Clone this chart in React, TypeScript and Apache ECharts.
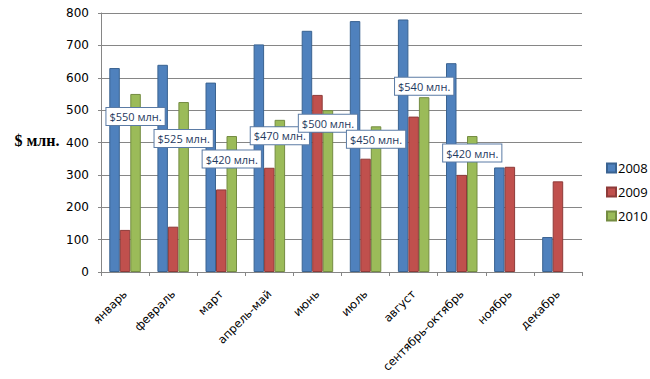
import React, { useEffect, useRef } from "react";
import * as echarts from "echarts";

const categories = [
  "январь",
  "февраль",
  "март",
  "апрель-май",
  "июнь",
  "июль",
  "август",
  "сентябрь-октябрь",
  "ноябрь",
  "декабрь",
];
const values2008 = [630, 640, 585, 703, 745, 775, 780, 645, 323, 108];
const values2009 = [130, 140, 255, 322, 547, 350, 480, 300, 325, 280];
const values2010: (number | null)[] = [550, 525, 420, 470, 500, 450, 540, 420, null, null];
const seriesNames = ["2008", "2009", "2010"];
const yTicks = { min: 0, max: 800, interval: 100 };
// vertical offsets (px) of the callout boxes relative to the 2010 bar tops
const labelOffsets = [31, 45, 31.5, 24.5, 21.5, 21.5, -2.5, 25.5, 0, 0];

export default function App() {
  const ref = useRef<HTMLDivElement>(null);
  useEffect(() => {
    if (!ref.current) return;
    const chart = echarts.init(ref.current, undefined, { renderer: "svg" });
    const axisFont = "DejaVu Sans";
    const fills = ["#4F81BD", "#C0504D", "#9BBB59"];
    const borders = ["#3A6391", "#8E3B39", "#748C42"];
    const datasets = [values2008, values2009, values2010];
    chart.setOption({
      animation: false,
      backgroundColor: "#ffffff",
      grid: { left: 101, top: 13, width: 481, height: 259, containLabel: false },
      legend: {
        orient: "vertical",
        left: 606,
        top: 159,
        padding: 0,
        itemWidth: 9,
        itemHeight: 9,
        itemGap: 6,
        icon: "rect",
        textStyle: {
          fontFamily: "Open Sans",
          fontSize: 13,
          lineHeight: 18,
          color: "#000",
          padding: [0, 0, 0, -3],
        },
        data: seriesNames,
      },
      graphic: [
        {
          type: "text",
          x: 37,
          y: 140,
          style: {
            text: "$ млн.",
            font: "bold 16px 'Liberation Serif'",
            fill: "#000",
            align: "center",
            verticalAlign: "middle",
          },
        },
      ],
      xAxis: {
        type: "category",
        data: categories,
        axisLine: { show: true, lineStyle: { color: "#868686", width: 1 } },
        axisTick: { show: true, length: 4, alignWithLabel: false, lineStyle: { color: "#868686" } },
        axisLabel: {
          rotate: 45,
          interval: 0,
          margin: 20,
          fontFamily: axisFont,
          fontSize: 11.5,
          color: "#000",
        },
        splitLine: { show: false },
      },
      yAxis: {
        type: "value",
        min: yTicks.min,
        max: yTicks.max,
        interval: yTicks.interval,
        axisLine: { show: true, lineStyle: { color: "#868686", width: 1 } },
        axisTick: { show: true, length: 3, lineStyle: { color: "#868686" } },
        axisLabel: { margin: 12, fontFamily: axisFont, fontSize: 12, color: "#000" },
        splitLine: { show: true, lineStyle: { color: "#868686", width: 1 } },
      },
      series: datasets.map((vals, si) => ({
        name: seriesNames[si],
        type: "bar",
        barWidth: 10.5,
        barGap: "0%",
        itemStyle: { color: fills[si], borderColor: borders[si], borderWidth: 1 },
        z: 2,
        data:
          si === 2
            ? vals.map((v, i) => ({
                value: v,
                label: {
                  show: v != null,
                  position: "top",
                  distance: 0,
                  offset: [0, labelOffsets[i]],
                  formatter: (p: any) => `$${p.value} млн.`,
                  backgroundColor: "#ffffff",
                  borderColor: "#5B7BA5",
                  borderWidth: 1,
                  padding: [2, 3, 2, 3],
                  fontFamily: "Open Sans",
                  fontSize: 11,
                  color: "#1F3A60",
                  lineHeight: 13,
                },
              }))
            : vals,
      })),
    });
    return () => chart.dispose();
  }, []);
  return (
    <div
      ref={ref}
      style={{ position: "absolute", left: 0, top: 0, width: 650, height: 379 }}
    />
  );
}
